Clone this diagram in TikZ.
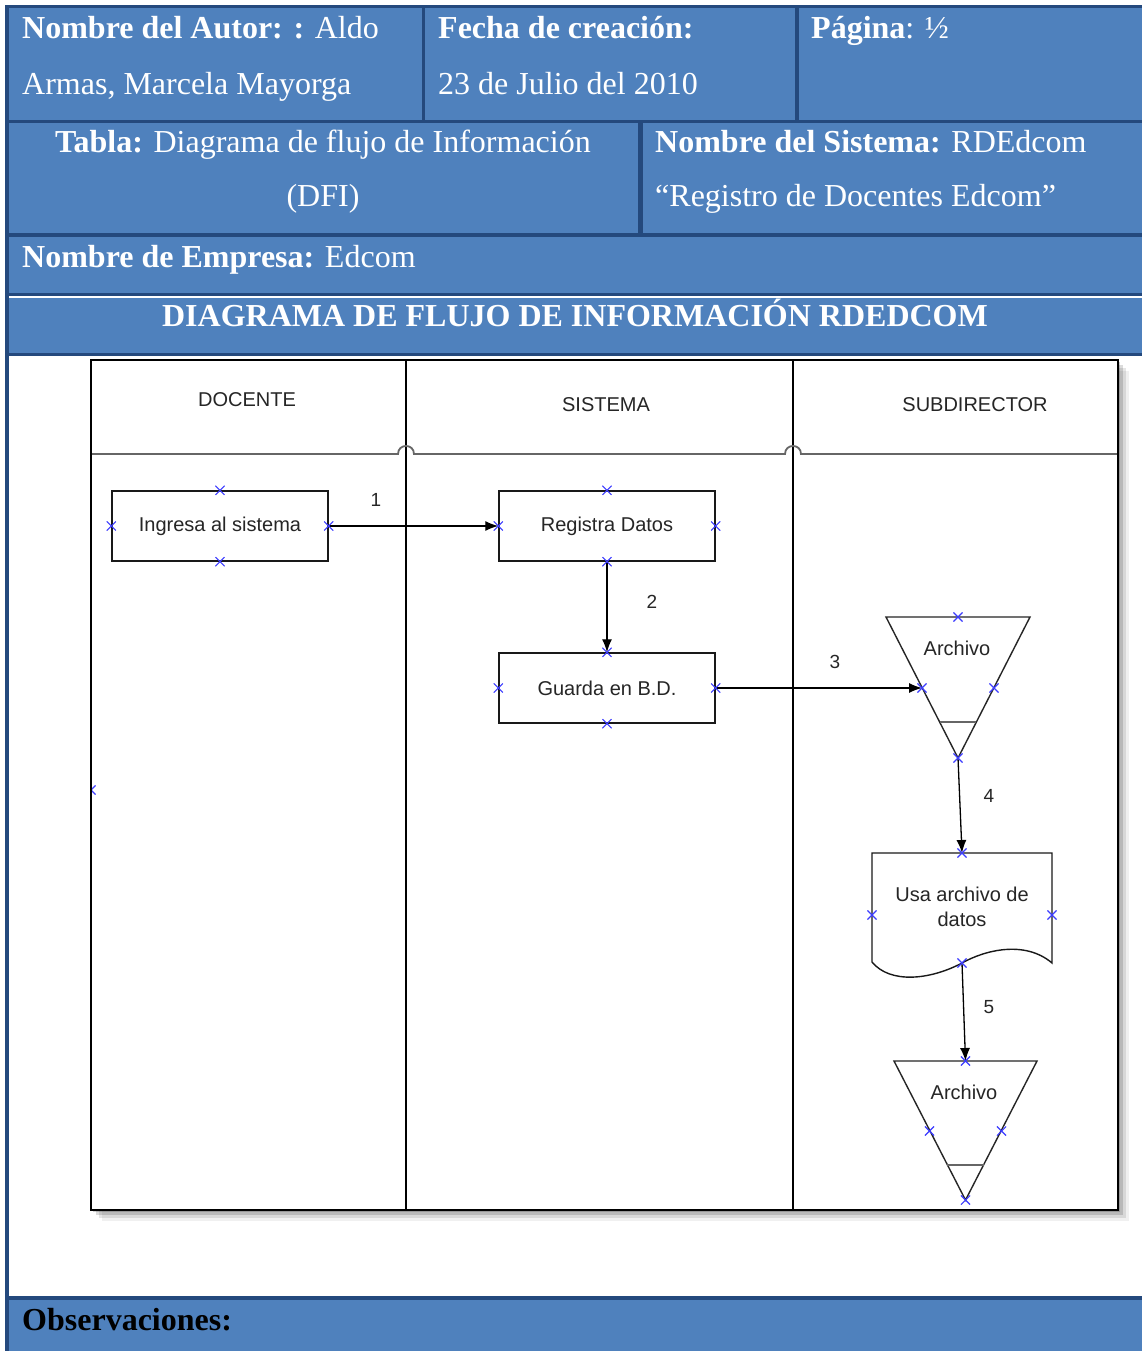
\documentclass[tikz,border=0pt]{standalone}
\usepackage{fontspec}
\setmainfont{Liberation Serif}
\newfontfamily\diagfont{Liberation Sans}
\usetikzlibrary{arrows.meta,shapes.misc}

\definecolor{celdaazul}{RGB}{79,129,189}
\definecolor{bordeazul}{RGB}{36,73,125}
\definecolor{marcaazul}{RGB}{60,60,255}

\tikzset{
  titulo/.style={anchor=base west, text=white, inner sep=0pt, font=\fontsize{32}{38}\selectfont},
  carril/.style={font=\diagfont\fontsize{20}{24}\selectfont, text=black!85},
  proceso/.style={draw=black!90, line width=1.4pt, minimum width=216pt, minimum height=70pt,
    inner sep=0pt, font=\diagfont\fontsize{20}{24}\selectfont, text=black!85},
  etiq/.style={font=\diagfont\fontsize{20}{25}\selectfont, text=black!85, inner sep=0pt, align=center},
  numero/.style={font=\diagfont\fontsize{19}{22}\selectfont, text=black!85},
  flujo/.style={draw=black, line width=1.3pt, -{Latex[length=13pt,width=10pt]}},
  cxmark/.style={cross out, draw=marcaazul, line width=1.1pt, minimum size=8pt, inner sep=0pt},
}

\begin{document}
\begin{tikzpicture}[x=1pt, y=-1pt]
  \useasboundingbox (0,0) rectangle (1142,1351);

  % encabezado de la tabla
  \fill[bordeazul] (5,5) rectangle (1142,356);
  \fill[celdaazul] (9,8) rectangle (422,120);
  \fill[celdaazul] (425,8) rectangle (795,120);
  \fill[celdaazul] (799,8) rectangle (1142,120);
  \fill[celdaazul] (9,123) rectangle (638,233);
  \fill[celdaazul] (643,123) rectangle (1142,233);
  \fill[celdaazul] (9,237) rectangle (1142,293);
  \fill[white] (9,296) rectangle (1142,298);
  \fill[celdaazul] (9,298) rectangle (1142,353);
  \fill[bordeazul] (5,356) rectangle (9,1351);
  \fill[bordeazul] (5,1296) rectangle (1142,1300);
  \fill[celdaazul] (9,1300) rectangle (1142,1351);

  \node[titulo] (autor) at (22,39) {\textbf{Nombre del Autor: :} Aldo};
  \node[titulo] (autor2) at (22,95) {Armas, Marcela Mayorga};
  \node[titulo] (fecha) at (438,39) {\textbf{Fecha de creación:}};
  \node[titulo] (fecha2) at (438,95) {23 de Julio del 2010};
  \node[titulo] (pagina) at (811,39) {\textbf{Página}: ½};
  \node[titulo, anchor=base] (tabla) at (323,153) {\textbf{Tabla:} Diagrama de flujo de Información};
  \node[titulo, anchor=base] (dfi) at (323,207) {(DFI)};
  \node[titulo] (sisnom) at (655,153) {\textbf{Nombre del Sistema:} RDEdcom};
  \node[titulo] (sisnom2) at (655,207) {“Registro de Docentes Edcom”};
  \node[titulo] (empresa) at (22,267) {\textbf{Nombre de Empresa:} Edcom};
  \node[titulo, anchor=base] (diagtit) at (575,326) {\textbf{DIAGRAMA DE FLUJO DE INFORMACIÓN RDEDCOM}};
  \node[titulo, text=black] (obs) at (22,1330) {\textbf{Observaciones:}};

  % marco del diagrama con sombra
  \foreach \s/\o in {2/0.18, 5/0.14, 8/0.10, 11/0.06}
    \fill[black, opacity=\o] (91+\s,360+\s) rectangle (1118+\s,1210+\s);
  \fill[white] (91,360) rectangle (1118,1210);
  \draw[line width=1.4pt] (406,360) -- (406,1210);
  \draw[line width=1.4pt] (793,360) -- (793,1210);
  \draw[black!60, line width=1.8pt] (91,454) -- (398,454)
    .. controls (398,443.3) and (414,443.3) .. (414,454) -- (785,454)
    .. controls (785,443.3) and (801,443.3) .. (801,454) -- (1118,454);

  \node[carril] (docente) at (247,400) {DOCENTE};
  \node[carril] (sistema) at (606,405) {SISTEMA};
  \node[carril] (subdir) at (975,405) {SUBDIRECTOR};

  % procesos
  \node[proceso] (ingresa) at (220,526) {Ingresa al sistema};
  \node[proceso] (registra) at (607,526) {Registra Datos};
  \node[proceso] (guarda) at (607,688) {Guarda en B.D.};

  % archivo 1
  \draw[black!85, line width=1.4pt] (886,617) -- (1030,617) -- (958,758) -- cycle;
  \draw[black!60, line width=2.2pt] (940,722) -- (976,722);
  \node[etiq] (arch1) at (957,648) {Archivo};
  \coordinate (arch1-top) at (958,617);
  \coordinate (arch1-izq) at (922,688);
  \coordinate (arch1-der) at (994,688);
  \coordinate (arch1-vert) at (958,758);

  % documento
  \draw[black!90, line width=1.4pt] (872,962) -- (872,853) -- (1052,853) -- (1052,963)
    .. controls (1025,940) and (985,950) .. (962,963)
    .. controls (930,980) and (890,984) .. (872,962) -- cycle;
  \node[etiq] (usa) at (962,907) {Usa archivo de\\datos};
  \coordinate (usa-top) at (962,853);
  \coordinate (usa-izq) at (872,915);
  \coordinate (usa-der) at (1052,915);
  \coordinate (usa-base) at (962,963);

  % archivo 2
  \draw[black!85, line width=1.4pt] (894,1061) -- (1037,1061) -- (965.5,1200) -- cycle;
  \draw[black!60, line width=2.2pt] (947,1165) -- (984,1165);
  \node[etiq] (arch2) at (964,1092) {Archivo};
  \coordinate (arch2-top) at (965.5,1061);
  \coordinate (arch2-izq) at (929.5,1131);
  \coordinate (arch2-der) at (1001.5,1131);
  \coordinate (arch2-vert) at (965.5,1200);

  % flujos
  \draw[flujo] (ingresa.east) -- (registra.west);
  \draw[flujo] (registra.south) -- (guarda.north);
  \draw[flujo] (guarda.east) -- (arch1-izq);
  \draw[flujo] (arch1-vert) -- (usa-top);
  \draw[flujo] (usa-base) -- (arch2-top);

  \node[numero] (n1) at (376,500) {1};
  \node[numero] (n2) at (652,602) {2};
  \node[numero] (n3) at (835,662) {3};
  \node[numero] (n4) at (989,796) {4};
  \node[numero] (n5) at (989,1007) {5};

  % puntos de conexion
  \foreach \p [count=\i] in {ingresa.north, ingresa.south, ingresa.west, ingresa.east,
      registra.north, registra.south, registra.west, registra.east,
      guarda.north, guarda.south, guarda.west, guarda.east,
      arch1-top, arch1-izq, arch1-der, arch1-vert,
      usa-top, usa-izq, usa-der, usa-base,
      arch2-top, arch2-izq, arch2-der, arch2-vert}
    \node[cxmark] (cx\i) at (\p) {};
  \begin{scope}
    \clip (91,360) rectangle (1118,1210);
    \node[cxmark] (cx0) at (91,790) {};
  \end{scope}

  \draw[line width=2.5pt] (91,360) rectangle (1118,1210);
\end{tikzpicture}
\end{document}
